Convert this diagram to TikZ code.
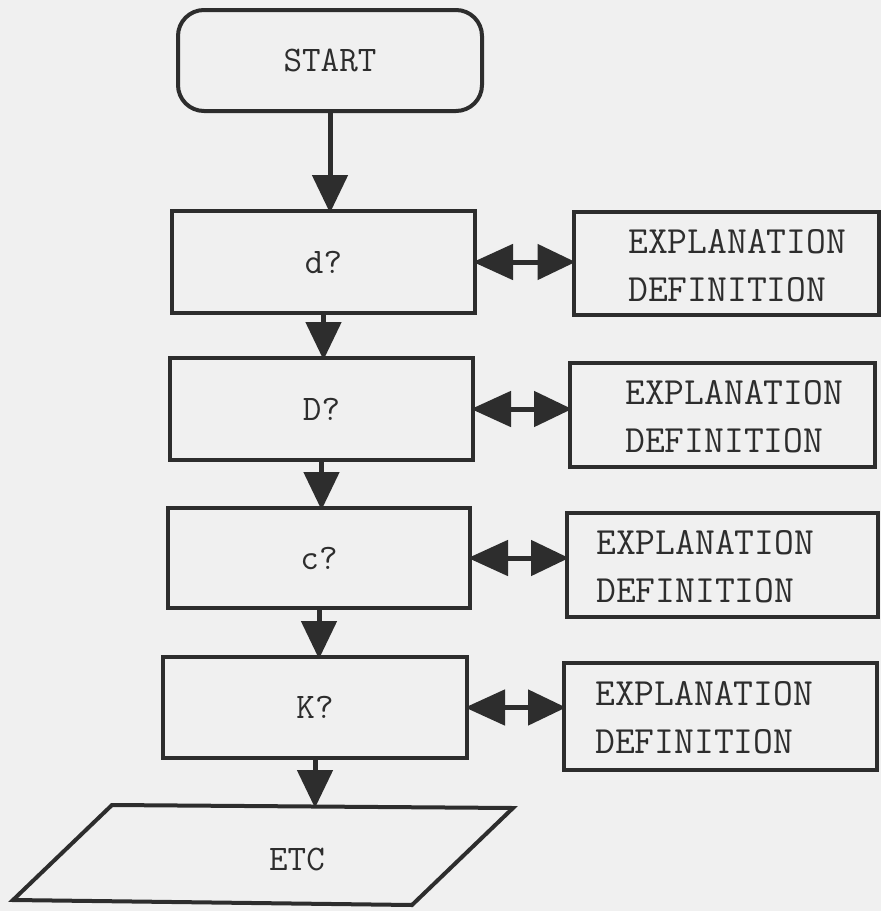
\documentclass[tikz,border=0pt]{standalone}
\usepackage{fontspec}
\usetikzlibrary{arrows.meta}
\definecolor{paper}{RGB}{240,240,240}
\definecolor{ink}{RGB}{45,45,45}
\tikzset{
  box/.style={draw=ink, line width=4pt, inner sep=0pt, outer sep=0pt,
    font=\ttfamily\fontsize{36}{36}\selectfont, text=ink},
  explabel/.style={anchor=west, align=left, inner sep=0pt, text=ink,
    font=\ttfamily\fontsize{38.5}{48}\selectfont},
  flow/.style={draw=ink, line width=5pt,
    -{Triangle[length=38pt,width=35pt]}, shorten >=-2pt},
  link/.style={draw=ink, line width=5pt,
    {Triangle[length=40pt,width=35pt]}-{Triangle[length=38pt,width=35pt]},
    shorten >=-2pt, shorten <=-2pt}
}
\begin{document}
\begin{tikzpicture}[x=1pt,y=-1pt]
  \fill[paper] (0,0) rectangle (881,911);
  \useasboundingbox (0,0) rectangle (881,911);

  % main column
  \node[box, rounded corners=26pt, minimum width=304pt, minimum height=101pt] (start) at (330,60.5) {START};
  \node[box, minimum width=303pt, minimum height=102pt] (qd)  at (323.5,262) {d?};
  \node[box, minimum width=303pt, minimum height=102pt] (qD)  at (321.5,409) {D?};
  \node[box, minimum width=302pt, minimum height=100pt] (qc)  at (319,558)   {c?};
  \node[box, minimum width=304pt, minimum height=101pt] (qK)  at (315,707.5) {K?};

  % output parallelogram
  \draw[ink, line width=4pt, line join=miter]
    (112,805) -- (513,808) -- (412,905) -- (13,900) -- cycle;
  \coordinate (etctop) at (316,806);
  \node[text=ink, font=\ttfamily\fontsize{36}{36}\selectfont] (etc) at (297,859) {ETC};

  % explanation boxes
  \node[box, minimum width=305pt, minimum height=103pt] (e1) at (726,263.5) {};
  \node[box, minimum width=305pt, minimum height=104pt] (e2) at (722.5,415) {};
  \node[box, minimum width=311pt, minimum height=104pt] (e3) at (722.5,565) {};
  \node[box, minimum width=313pt, minimum height=107pt] (e4) at (720.5,716.5) {};

  \node[explabel] (t1) at (628,266) {EXPLANATION\\DEFINITION};
  \node[explabel] (t2) at (625,417) {EXPLANATION\\DEFINITION};
  \node[explabel] (t3) at (596,567) {EXPLANATION\\DEFINITION};
  \node[explabel] (t4) at (595,718) {EXPLANATION\\DEFINITION};

  % flow connectors
  \draw[flow] (start.south) -- (start.south |- qd.north);
  \draw[flow] (qd.south) -- (qd.south |- qD.north);
  \draw[flow] (qD.south) -- (qD.south |- qc.north);
  \draw[flow] (qc.south) -- (qc.south |- qK.north);
  \draw[flow] (qK.south) -- (qK.south |- etctop);

  % two-way links
  \draw[link] (qd.east) -- (e1.west |- qd.east);
  \draw[link] (qD.east) -- (e2.west |- qD.east);
  \draw[link] (qc.east) -- (e3.west |- qc.east);
  \draw[link] (qK.east) -- (e4.west |- qK.east);
\end{tikzpicture}
\end{document}
